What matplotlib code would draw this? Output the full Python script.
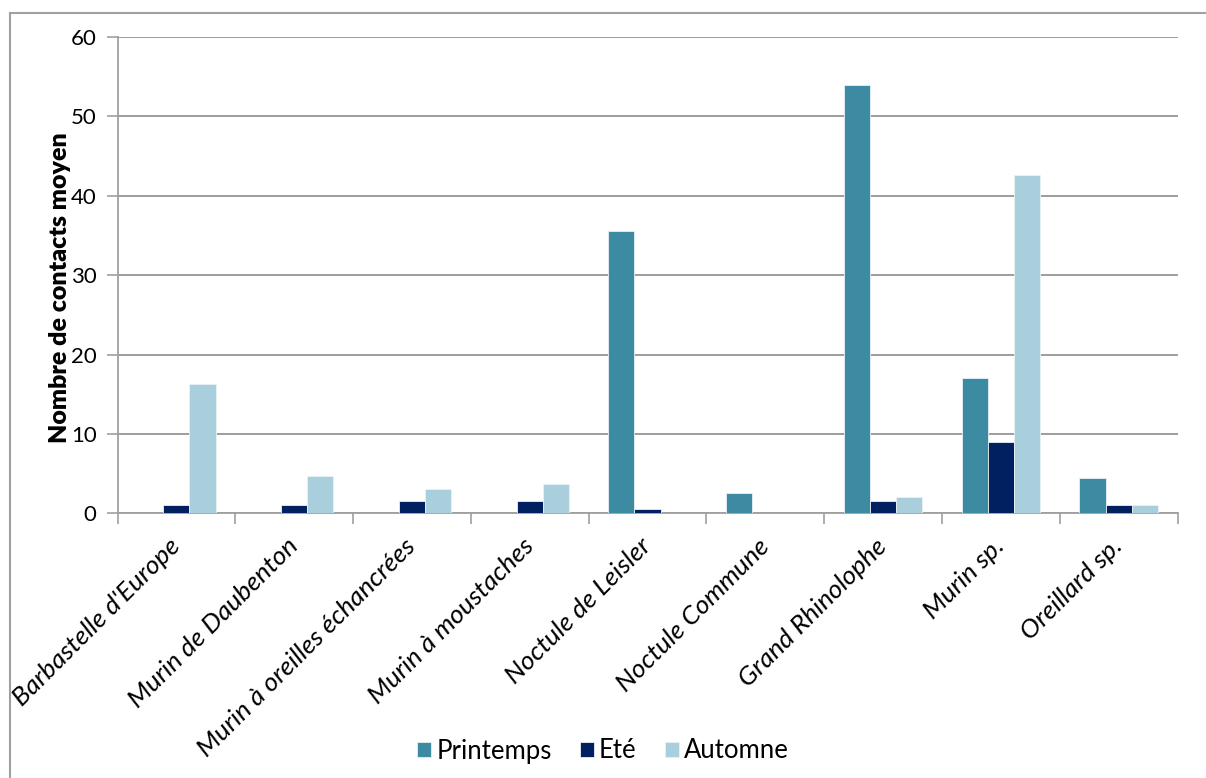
import matplotlib
matplotlib.use("Agg")
import matplotlib.pyplot as plt
import numpy as np
from matplotlib.lines import Line2D

species = [
    "Barbastelle d'Europe",
    "Murin de Daubenton",
    "Murin à oreilles échancrées",
    "Murin à moustaches",
    "Noctule de Leisler",
    "Noctule Commune",
    "Grand Rhinolophe",
    "Murin sp.",
    "Oreillard sp.",
]
printemps = [0, 0, 0, 0, 35.5, 2.5, 54, 17, 4.5]
ete = [1, 1, 1.5, 1.5, 0.5, 0, 1.5, 9, 1]
automne = [16.3, 4.7, 3.0, 3.7, 0, 0, 2, 42.6, 1]
season_names = ["Printemps", "Eté", "Automne"]
season_colors = ["#3D8BA3", "#002060", "#A9CEDC"]
y_ticks = [0, 10, 20, 30, 40, 50, 60]

plt.rcParams["font.family"] = ["Lato", "DejaVu Sans"]

W, H = 1206, 778
fig = plt.figure(figsize=(W / 100, H / 100), dpi=100)
ax = fig.add_axes([117.5 / W, 1 - 513.3 / H, (1177.5 - 117.5) / W, (513.3 - 37) / H])

x = np.arange(len(species))
bw = 0.222
for i, (vals, name, col) in enumerate(zip([printemps, ete, automne], season_names, season_colors)):
    ax.bar(x + (i - 1) * bw, vals, width=bw, color=col, label=name,
           edgecolor="#E8F2F5", linewidth=0.6, zorder=3)

ax.set_xlim(-0.5, len(species) - 0.5)
ax.set_ylim(0, 60)
ax.set_yticks(y_ticks)
ax.yaxis.grid(True, color="#8C8C8C", linewidth=1.2, zorder=0)
ax.set_axisbelow(True)

for s in ["top", "right"]:
    ax.spines[s].set_visible(False)
for s in ["left", "bottom"]:
    ax.spines[s].set_color("#A0A0A0")
    ax.spines[s].set_linewidth(1.3)

ax.tick_params(axis="y", length=8, width=1.2, color="#A0A0A0", labelsize=16, pad=7, direction="out")
ax.set_xticks(np.arange(len(species) + 1) - 0.5, minor=False)
ax.set_xticklabels([])
ax.tick_params(axis="x", which="major", length=8, width=1.2, color="#A0A0A0", direction="out")
ax.set_xticks(x, minor=True)
ax.set_xticklabels(species, minor=True, rotation=45, ha="right", va="center",
                   rotation_mode="anchor", fontsize=19, style="italic")
ax.tick_params(axis="x", which="minor", length=0, pad=21)

ax.set_ylabel("Nombre de contacts moyen", fontsize=18, fontweight="heavy")
ax.yaxis.set_label_coords(-0.044, 0.473)

fig.legend(loc="center", bbox_to_anchor=(603 / W, 1 - 751 / H), ncol=3, frameon=False,
           fontsize=18.5, handlelength=0.55, handleheight=0.55, handletextpad=0.2,
           columnspacing=1.1)

# figure frame (top and left edges)
fig.add_artist(Line2D([9.5 / W, 9.5 / W], [0, 1 - 12.5 / H], transform=fig.transFigure,
                      color="#A0A0A0", linewidth=1.5))
fig.add_artist(Line2D([9.5 / W, 1], [1 - 12.5 / H, 1 - 12.5 / H], transform=fig.transFigure,
                      color="#A0A0A0", linewidth=1.5))

fig.savefig("out.png", dpi=100)
